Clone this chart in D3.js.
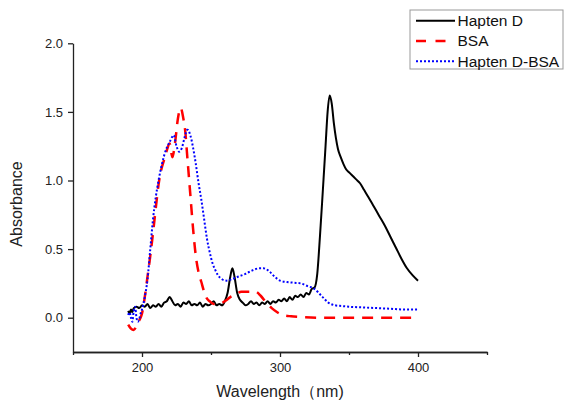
<!DOCTYPE html>
<html>
<head>
<meta charset="utf-8">
<script src="https://cdn.jsdelivr.net/npm/d3@7"></script>
<style>
  body { margin: 0; background: #fff; }
  svg { font-family: Arial, "Liberation Sans", sans-serif; }
  .axis path, .axis line { stroke: #222; stroke-width: 1.3; }
  .axis text { fill: #222; font-size: 13px; }
</style>
</head>
<body>
<svg width="564" height="403"></svg>
<script>
  // Hapten D (black)
  const haptenWl = [190,191,192,193,194,196,198,200,202,204,206,208,210,212,214,216,218,220,222,224,226,228,230,232,234,236,238,240,242,244,246,248,250,252,254,256,258,260,262,264,265.5,267,269,271,273,275,277,279,281,283,285,287,289,291,293,295,297,299,301,303,305,307,309,311,313,315,317,319,321,323,325,327,329,331,333,334.5,336,337.5,339,340.5,342,344,346,348,350,352,355,358,361,364,368,372,376,380,384,388,392,396,400];
  const haptenAbs = [0.05,0.03,0.06,0.04,0.07,0.08,0.07,0.09,0.08,0.10,0.07,0.09,0.08,0.10,0.08,0.11,0.12,0.15,0.12,0.09,0.10,0.08,0.11,0.10,0.12,0.09,0.10,0.09,0.11,0.08,0.10,0.09,0.10,0.12,0.09,0.10,0.09,0.12,0.18,0.30,0.36,0.30,0.18,0.13,0.11,0.09,0.10,0.12,0.10,0.11,0.09,0.11,0.10,0.12,0.10,0.12,0.11,0.13,0.12,0.14,0.12,0.15,0.13,0.16,0.15,0.17,0.15,0.18,0.17,0.21,0.22,0.32,0.60,0.92,1.25,1.50,1.62,1.56,1.42,1.31,1.23,1.17,1.12,1.08,1.06,1.04,1.01,0.98,0.93,0.88,0.81,0.74,0.67,0.59,0.51,0.43,0.36,0.31,0.27];

  // BSA (red dashed)
  const bsaWl = [190,192,194,196,198,200,202,204,206,208,210,212,214,216,218,220,222,224,226,228,230,231,233,235,237,239,241,243,245,247,249,252,256,260,264,268,272,276,282,286,290,294,298,302,308,315,330,350,370,390,400];
  const bsaAbs = [-0.05,-0.08,-0.09,-0.06,-0.02,0.03,0.15,0.30,0.45,0.62,0.80,0.97,1.08,1.15,1.22,1.27,1.17,1.28,1.45,1.53,1.45,1.39,1.15,0.90,0.65,0.45,0.33,0.26,0.19,0.14,0.12,0.10,0.10,0.12,0.15,0.17,0.19,0.19,0.19,0.16,0.11,0.07,0.04,0.02,0.01,0.005,0.0,0.0,0.0,0.0,0.0];

  // Hapten D-BSA (blue dotted)
  const conjWl = [190,191,192,193,194,195,196,197,198,199,200,202,204,206,208,210,212,214,216,218,220,222,223,225,227,229,231,233,235,237,239,241,243,245,247,249,251,253,255,258,261,265,270,275,280,285,288,292,296,300,305,310,315,320,325,330,335,340,345,350,360,370,380,390,400];
  const conjAbs = [0.02,0.04,0.0,-0.03,0.05,0.08,0.0,-0.03,-0.01,0.03,0.06,0.15,0.28,0.50,0.72,0.88,1.0,1.10,1.18,1.24,1.28,1.32,1.33,1.25,1.21,1.24,1.32,1.37,1.33,1.24,1.12,0.98,0.86,0.72,0.58,0.48,0.40,0.35,0.31,0.28,0.27,0.28,0.30,0.32,0.345,0.36,0.36,0.34,0.30,0.27,0.26,0.255,0.25,0.23,0.21,0.16,0.11,0.09,0.085,0.08,0.075,0.07,0.065,0.06,0.06];

  const xTicks = [200, 300, 400];
  const xMinor = [150, 250, 350, 450];
  const yTicks = [0.0, 0.5, 1.0, 1.5, 2.0];

  const seriesNames = ['Hapten D', 'BSA', 'Hapten D-BSA'];

  const series = [
    {name: seriesNames[0], wl: haptenWl, abs: haptenAbs, color: '#000', dash: null, width: 2},
    {name: seriesNames[1], wl: bsaWl, abs: bsaAbs, color: '#ff0000', dash: '11,8', width: 2.5},
    {name: seriesNames[2], wl: conjWl, abs: conjAbs, color: '#0000ff', dash: '2,2', width: 2}
  ];

  const svg = d3.select('svg');

  const x = d3.scaleLinear().domain([150, 450]).range([73, 487]);
  const y = d3.scaleLinear().domain([-0.25, 2.0]).range([352, 43.3]);

  const line = d3.line()
    .x(d => x(d[0]))
    .y(d => y(d[1]))
    .curve(d3.curveMonotoneX);

  series.forEach(s => {
    svg.append('path')
      .datum(s.wl.map((w, i) => [w, s.abs[i]]))
      .attr('fill', 'none')
      .attr('stroke', s.color)
      .attr('stroke-width', s.width)
      .attr('stroke-dasharray', s.dash)
      .attr('stroke-linejoin', 'round')
      .attr('d', line);
  });

  // axes
  svg.append('g')
    .attr('class', 'axis')
    .attr('transform', `translate(0,${y.range()[0]})`)
    .call(d3.axisBottom(x).tickValues(xMinor).tickSize(3).tickFormat('').tickSizeOuter(0));

  svg.append('g')
    .attr('class', 'axis')
    .attr('transform', `translate(0,${y.range()[0]})`)
    .call(d3.axisBottom(x).tickValues(xTicks).tickSize(5).tickPadding(6).tickSizeOuter(0));

  svg.append('g')
    .attr('class', 'axis')
    .attr('transform', `translate(${x.range()[0]},0)`)
    .call(d3.axisLeft(y).tickValues(yTicks).tickSize(5).tickPadding(5)
      .tickFormat(d3.format('.1f')).tickSizeOuter(0));

  svg.append('text')
    .attr('x', (x.range()[0] + x.range()[1]) / 2)
    .attr('y', 397)
    .attr('text-anchor', 'middle')
    .attr('font-size', 16)
    .attr('fill', '#222')
    .text('Wavelength（nm)');

  svg.append('text')
    .attr('transform', 'translate(22,204) rotate(-90)')
    .attr('text-anchor', 'middle')
    .attr('font-size', 16)
    .attr('fill', '#222')
    .text('Absorbance');

  // legend
  const legend = svg.append('g').attr('transform', 'translate(410,10)');
  legend.append('rect')
    .attr('width', 153)
    .attr('height', 59)
    .attr('fill', '#fff')
    .attr('stroke', '#999')
    .attr('stroke-width', 1);

  const items = legend.selectAll('g.item').data(series)
    .enter().append('g')
      .attr('class', 'item')
      .attr('transform', (d, i) => `translate(0,${10.7 + i * 20.3})`);

  items.append('line')
    .attr('x1', 6).attr('x2', 45)
    .attr('stroke', d => d.color)
    .attr('stroke-width', d => d.width)
    .attr('stroke-dasharray', d => d.dash ? (d.dash === '2,2' ? d.dash : '10,9.5') : null);

  items.append('text')
    .attr('x', 47.5)
    .attr('dy', '0.35em')
    .attr('font-size', 15.5)
    .attr('fill', '#111')
    .text(d => d.name);
</script>
</body>
</html>
